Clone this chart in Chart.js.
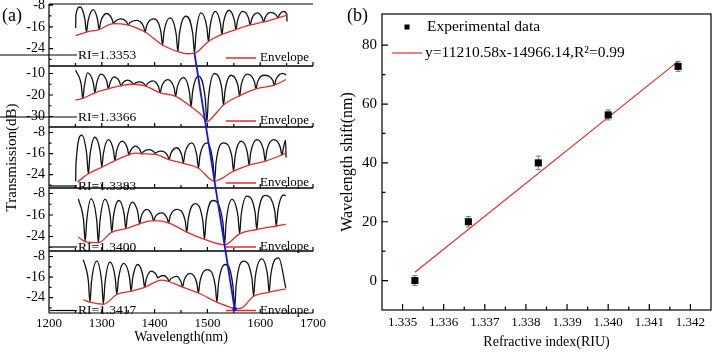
<!DOCTYPE html>
<html lang="en">
<head>
<meta charset="UTF-8">
<title>Spectra and wavelength shift</title>
<script src="https://cdn.jsdelivr.net/npm/chart.js@4.4.0/dist/chart.umd.min.js"></script>
<style>
  body { margin: 0; background: #fff; }
  #wrap { position: relative; width: 716px; height: 353px; overflow: hidden; font-family: "Liberation Serif", "Times New Roman", serif; }
  canvas { position: absolute; }
  .tag { position: absolute; font-size: 18px; line-height: 1; color: #000; }
</style>
</head>
<body>
<div id="wrap">
  <canvas id="s0"></canvas>
  <canvas id="s1"></canvas>
  <canvas id="s2"></canvas>
  <canvas id="s3"></canvas>
  <canvas id="s4"></canvas>
  <canvas id="blue" width="340" height="353" style="left:0;top:0"></canvas>
  <canvas id="cb" width="386" height="353" style="left:330px;top:0"></canvas>
  <div class="tag" style="left:2px;top:6px">(a)</div>
  <div class="tag" style="left:347px;top:6px">(b)</div>
</div>
<script>
// ---------- panel (a): transmission spectra ----------
const waveTicks = [1200, 1300, 1400, 1500, 1600, 1700];
const waveMinor = [1250, 1350, 1450, 1550, 1650];
const riLabels = ['RI=1.3353', 'RI=1.3366', 'RI=1.3383', 'RI=1.3400', 'RI=1.3417'];
const envLabel = 'Envelope';
const yRange = [[-30.4, -7.6], [-34.9, -6.5], [-29.1, -5.9], [-29.4, -5.95], [-30.0, -5.85]];
const yMajor = [[-8, -16, -24], [-10, -20, -30], [-8, -16, -24], [-8, -16, -24], [-8, -16, -24]];
const yMinor = [[-12, -20, -28], [-15, -25], [-12, -20, -28], [-12, -20, -28], [-12, -20, -28]];

// [wavelength nm, transmission dB]
const spec1 = [[1250.5,-16.4],[1251,-11.5],[1259,-8.7],[1268,-13.3],[1271,-17.9],[1274,-13.8],[1284,-9.7],[1292,-13.4],[1295,-17.0],[1298,-14.1],[1309,-11.1],[1319,-13.0],[1322,-14.8],[1325,-14.0],[1336,-13.1],[1347,-14.2],[1350,-15.3],[1353,-14.5],[1366,-13.6],[1379,-15.8],[1382,-17.9],[1385,-15.5],[1398,-13.1],[1412,-17.9],[1415,-22.7],[1418,-17.7],[1429,-12.7],[1441,-18.9],[1444,-25.1],[1447,-18.6],[1459,-12.1],[1472.5,-18.9],[1475.5,-25.7],[1478.5,-18.3],[1488,-10.9],[1499,-16.2],[1502,-21.4],[1505,-15.9],[1515,-10.3],[1524.5,-14.6],[1527.5,-18.8],[1530.5,-14.4],[1541,-9.9],[1551,-13.5],[1554,-17.0],[1557,-13.7],[1567,-10.3],[1578,-12.8],[1581,-15.3],[1584,-13.1],[1594,-10.9],[1603.5,-12.6],[1606.5,-14.2],[1609.5,-12.5],[1620,-10.7],[1630.5,-11.7],[1633.5,-12.7],[1636.5,-11.5],[1644,-10.3],[1650.5,-11.4],[1650.7,-14.0]];
const env1 = [[1250.5,-19.2],[1271,-17.9],[1295,-17.0],[1322,-14.8],[1336,-14.9],[1350,-15.4],[1382,-17.9],[1415,-22.7],[1444,-25.1],[1462,-25.9],[1475.5,-25.7],[1502,-21.4],[1527.5,-18.8],[1554,-17.0],[1581,-15.3],[1606.5,-14.2],[1633.5,-12.7],[1650.5,-11.7]];

const spec2 = [[1250.5,-8.5],[1261,-15.1],[1264,-21.6],[1267,-15.7],[1273,-9.7],[1284,-14.4],[1287,-19.0],[1290,-14.7],[1298.5,-10.3],[1309.5,-13.7],[1312.5,-17.1],[1315.5,-14.4],[1323,-11.6],[1333.5,-13.8],[1336.5,-15.9],[1339.5,-14.5],[1348.5,-13.1],[1357,-14.1],[1360,-15.1],[1363,-14.5],[1372.5,-13.9],[1380.5,-14.9],[1383.5,-15.9],[1386.5,-14.7],[1396.5,-13.4],[1407.5,-16.2],[1410.5,-19.0],[1413.5,-15.9],[1425,-12.8],[1437,-16.7],[1440,-20.5],[1443,-16.2],[1455,-11.9],[1466,-18.7],[1469,-25.5],[1472,-18.4],[1483,-11.2],[1496,-21.9],[1499,-32.5],[1502,-21.3],[1513.5,-10.0],[1527.5,-17.4],[1530.5,-24.7],[1533.5,-17.8],[1545,-10.8],[1558,-15.7],[1561,-20.5],[1564,-15.4],[1575.5,-10.3],[1589,-13.7],[1592,-17.0],[1595,-13.9],[1606.5,-10.8],[1624,-13.2],[1627,-15.5],[1630,-12.7],[1643,-9.9],[1649,-10.6]];
const env2 = [[1250.5,-22.4],[1264,-21.6],[1287,-19.0],[1312.5,-17.1],[1336.5,-15.6],[1360,-15.0],[1383.5,-15.9],[1410.5,-19.0],[1440,-20.6],[1469,-25.5],[1490,-29.6],[1499,-32.5],[1508,-30.8],[1530.5,-24.7],[1561,-20.3],[1592,-17.1],[1627,-15.4],[1649,-12.8]];

const spec3 = [[1250.5,-26.5],[1251,-20.2],[1262,-9.0],[1271.5,-16.4],[1274.5,-23.7],[1277.5,-16.8],[1287,-9.8],[1297,-15.5],[1300,-21.2],[1303,-16.0],[1312.5,-10.7],[1322,-14.7],[1325,-18.7],[1328,-15.0],[1339,-11.3],[1348.5,-14.0],[1351.5,-16.6],[1354.5,-14.9],[1364.5,-13.2],[1372.5,-14.7],[1375.5,-16.1],[1378.5,-15.3],[1389.5,-14.5],[1398,-15.2],[1401,-15.9],[1404,-15.5],[1412.5,-15.1],[1424.5,-16.7],[1427.5,-18.3],[1430.5,-16.1],[1442,-13.8],[1451.5,-16.7],[1454.5,-19.6],[1457.5,-15.8],[1470.5,-11.9],[1480,-16.7],[1483,-21.5],[1486,-16.7],[1499,-11.9],[1510.5,-19.2],[1513.5,-26.5],[1516.5,-19.2],[1530.5,-11.9],[1546.5,-17.3],[1549.5,-22.7],[1552.5,-17.0],[1564,-11.3],[1576,-15.9],[1579,-20.4],[1582,-15.6],[1594,-10.7],[1606.5,-14.8],[1609.5,-18.9],[1612.5,-14.8],[1625.5,-10.7],[1638,-13.6],[1641,-16.5],[1644,-13.8],[1648,-11.0],[1649,-17.5]];
const env3 = [[1254,-26.8],[1274.5,-23.7],[1300,-21.2],[1325,-18.7],[1351.5,-16.4],[1364,-15.8],[1375.5,-16.1],[1401,-16.3],[1427.5,-18.3],[1454.5,-19.7],[1483,-21.6],[1513.5,-26.5],[1549.5,-22.7],[1579,-20.4],[1609.5,-18.9],[1641,-16.5],[1649,-15.8]];

const spec4 = [[1255.5,-10.0],[1265.5,-18.0],[1268.5,-25.9],[1271.5,-18.0],[1279.5,-10.0],[1290.5,-18.2],[1293.5,-26.3],[1296.5,-18.3],[1306,-10.2],[1316,-16.3],[1319,-22.4],[1322,-16.5],[1332.5,-10.6],[1342.5,-15.9],[1345.5,-21.1],[1348.5,-16.2],[1358,-11.2],[1368.5,-15.3],[1371.5,-19.3],[1374.5,-16.6],[1385,-13.9],[1395,-16.1],[1398,-18.2],[1401,-16.7],[1413.5,-15.2],[1423.5,-17.1],[1426.5,-18.9],[1429.5,-16.4],[1442,-13.9],[1458,-18.2],[1461,-22.4],[1464,-17.1],[1477,-11.8],[1491.5,-18.5],[1494.5,-25.1],[1497.5,-17.9],[1510.5,-10.6],[1529.5,-18.9],[1532.5,-27.1],[1535.5,-18.7],[1546.5,-10.2],[1558,-16.6],[1561,-23.0],[1564,-16.0],[1575,-9.0],[1590.5,-15.2],[1593.5,-21.4],[1596.5,-15.1],[1609.5,-8.7],[1627.5,-14.4],[1630.5,-20.1],[1633.5,-14.3],[1644.5,-8.5],[1648.5,-8.9]];
const env4 = [[1255.5,-24.2],[1268.5,-25.9],[1293.5,-26.3],[1319,-22.4],[1345.5,-21.1],[1371.5,-19.3],[1398,-18.1],[1426.5,-18.9],[1461,-22.4],[1494.5,-25.1],[1532.5,-27.1],[1561,-23.0],[1593.5,-21.4],[1630.5,-20.1],[1648.5,-19.5]];

const spec5 = [[1265,-9.2],[1274.5,-17.5],[1277.5,-25.8],[1280.5,-17.8],[1290.5,-9.8],[1300,-18.2],[1303,-26.5],[1306,-18.4],[1315.5,-10.2],[1325.5,-16.5],[1328.5,-22.8],[1331.5,-16.8],[1341.5,-10.7],[1352.5,-16.1],[1355.5,-21.5],[1358.5,-16.3],[1368,-11.1],[1378,-15.6],[1381,-20.0],[1384,-16.9],[1393.5,-13.7],[1403,-15.0],[1406,-16.3],[1409,-15.9],[1417,-15.4],[1424.5,-16.5],[1427.5,-17.6],[1430.5,-16.7],[1442,-15.7],[1450,-17.8],[1453,-19.8],[1456,-17.2],[1467.5,-14.6],[1480,-18.4],[1483,-22.2],[1486,-17.7],[1500,-13.1],[1515,-19.5],[1518,-25.8],[1521,-18.5],[1533.5,-11.1],[1548.5,-19.8],[1551.5,-28.4],[1554.5,-19.1],[1568.5,-9.8],[1584.5,-16.7],[1587.5,-23.5],[1590.5,-16.2],[1603,-8.9],[1614,-15.4],[1617,-21.9],[1620,-15.2],[1635,-8.5],[1648.5,-20.2]];
const env5 = [[1265,-24.8],[1277.5,-25.8],[1303,-26.6],[1328.5,-22.8],[1355.5,-21.5],[1381,-20.0],[1413.5,-17.2],[1453,-19.9],[1483,-22.2],[1518,-25.8],[1546,-28.0],[1551.5,-28.4],[1565,-28.0],[1587.5,-23.5],[1617,-21.9],[1648.5,-20.6]];

// dip tracking line (blue): first and last spectrum minimum
const trackSub = [0, 4];
const trackNm = [1475.5, 1551.5];
const trackDb = [-25.7, -28.4];

// ---------- panel (b): wavelength shift ----------
const riuX = [1.3353, 1.3366, 1.3383, 1.3400, 1.3417];
const shiftY = [0, 20, 40, 56.3, 72.8];
const shiftErr = [1.7, 1.8, 2.3, 1.7, 1.7];
const fitX = [1.3353, 1.3417];
const fitY = [2.8, 74.5];
const legendLabels = ['Experimental data', 'y=11210.58x-14966.14,R²=0.99'];
const riuTicks = [1.335, 1.336, 1.337, 1.338, 1.339, 1.340, 1.341, 1.342];
const riuMinor = [1.3355, 1.3365, 1.3375, 1.3385, 1.3395, 1.3405, 1.3415];
const shiftTicks = [0, 20, 40, 60, 80];
const shiftMinor = [10, 30, 50, 70];

const specs = [spec1, spec2, spec3, spec4, spec5];
const envs = [env1, env2, env3, env4, env5];

const SERIF = '"Liberation Serif", "Times New Roman", serif';
Chart.defaults.font.family = SERIF;
Chart.defaults.color = '#000';

const RED = '#e32b2b';
const PAD = 30;
const subTop = [4, 66, 127, 188, 251];
const subBot = [66, 127, 188, 251, 313];
const riLineX0 = [0, 0, 50, 50, 50];
const riOff = [11, 10, 2, 4, 2.5];
const envOff = [8, 6, 5, 4, 2.5];

const frameA = {
  id: 'frameA',
  afterDraw(chart, args, opts) {
    const i = opts.idx;
    const { ctx, chartArea: a, scales: { x, y } } = chart;
    ctx.save();
    ctx.strokeStyle = '#000';
    ctx.lineWidth = 1.2;
    ctx.beginPath();
    ctx.moveTo(a.left, a.top); ctx.lineTo(a.right, a.top);
    ctx.moveTo(a.left, a.bottom); ctx.lineTo(a.right, a.bottom);
    ctx.moveTo(a.left, a.top); ctx.lineTo(a.left, a.bottom);
    yMajor[i].forEach(v => { const p = y.getPixelForValue(v); ctx.moveTo(a.left, p); ctx.lineTo(a.left + 4, p); });
    yMinor[i].forEach(v => { const p = y.getPixelForValue(v); ctx.moveTo(a.left, p); ctx.lineTo(a.left + 2.5, p); });
    waveTicks.forEach(v => { const p = x.getPixelForValue(v); ctx.moveTo(p, a.bottom); ctx.lineTo(p, a.bottom - 4); });
    waveMinor.forEach(v => { const p = x.getPixelForValue(v); ctx.moveTo(p, a.bottom); ctx.lineTo(p, a.bottom - 3); });
    ctx.stroke();

    // RI label
    const ly = a.bottom - riOff[i];
    ctx.beginPath(); ctx.moveTo(riLineX0[i], ly); ctx.lineTo(77, ly); ctx.stroke();
    ctx.fillStyle = '#000';
    ctx.textBaseline = 'middle';
    ctx.textAlign = 'left';
    ctx.font = '13.5px ' + SERIF;
    ctx.fillText(riLabels[i], 78, ly);

    // envelope legend
    const ey = a.bottom - envOff[i];
    ctx.strokeStyle = RED; ctx.lineWidth = 1.5;
    ctx.beginPath(); ctx.moveTo(226, ey); ctx.lineTo(256, ey); ctx.stroke();
    ctx.font = '13px ' + SERIF;
    ctx.fillText(envLabel, 260, ey);
    ctx.restore();
  }
};

const subs = [];
for (let i = 0; i < 5; i++) {
  const last = i === 4;
  const cv = document.getElementById('s' + i);
  const top = subTop[i] - PAD;
  cv.width = 340;
  cv.height = last ? 353 - top : subBot[i] - subTop[i] + 2 * PAD;
  cv.style.left = '0px';
  cv.style.top = top + 'px';

  subs.push(new Chart(cv, {
    type: 'line',
    data: {
      datasets: [
        { data: envs[i].map(p => ({ x: p[0], y: p[1] })), borderColor: RED, borderWidth: 1.3,
          pointRadius: 0, cubicInterpolationMode: 'monotone', tension: 0.4 },
        { data: specs[i].map(p => ({ x: p[0], y: p[1] })), borderColor: '#111', borderWidth: 1.3,
          pointRadius: 0, cubicInterpolationMode: 'monotone', tension: 0.4 }
      ]
    },
    options: {
      responsive: false,
      animation: false,
      layout: { padding: { top: PAD, bottom: last ? 0 : PAD, left: 0, right: 27 } },
      plugins: { legend: { display: false }, tooltip: { enabled: false }, frameA: { idx: i } },
      scales: {
        x: {
          type: 'linear', min: 1200, max: 1700, display: last,
          grid: { display: false, drawTicks: false }, border: { display: false },
          afterBuildTicks: s => { s.ticks = waveTicks.map(v => ({ value: v })); },
          afterFit: s => { if (last) s.height = 40; },
          ticks: { padding: 3, font: { family: SERIF, size: 13 }, autoSkip: false, maxRotation: 0, callback: v => String(v) },
          title: { display: last, text: 'Wavelength(nm)', font: { family: SERIF, size: 14 }, padding: { top: 0, bottom: 7 } }
        },
        y: {
          min: yRange[i][0], max: yRange[i][1],
          grid: { display: false, drawTicks: false }, border: { display: false },
          afterBuildTicks: s => { s.ticks = yMajor[i].map(v => ({ value: v })); },
          afterFit: s => { s.width = 49; },
          ticks: { padding: 4, font: { family: SERIF, size: 14 }, callback: v => String(v) },
          title: { display: i === 2, text: 'Transmission(dB)', font: { family: SERIF, size: 15 }, padding: { top: 3, bottom: 0 } }
        }
      }
    },
    plugins: [frameA]
  }));
}

// blue line joining the deepest dips, through the subplot scales
const bctx = document.getElementById('blue').getContext('2d');
const tp = trackSub.map((k, j) => ({
  x: subs[k].scales.x.getPixelForValue(trackNm[j]),
  y: subs[k].scales.y.getPixelForValue(trackDb[j]) + subTop[k] - PAD
}));
bctx.strokeStyle = '#1414e6';
bctx.lineWidth = 1.8;
bctx.beginPath();
bctx.moveTo(tp[0].x, tp[0].y);
bctx.lineTo(tp[1].x, tp[1].y);
bctx.stroke();
bctx.fillStyle = '#1414e6';
bctx.beginPath();
bctx.arc(tp[1].x, tp[1].y, 2.3, 0, Math.PI * 2);
bctx.fill();

// ---------- panel (b) chart ----------
const frameB = {
  id: 'frameB',
  beforeDatasetsDraw(chart) {
    const { ctx, scales: { x, y } } = chart;
    ctx.save();
    ctx.strokeStyle = '#777';
    ctx.lineWidth = 1;
    riuX.forEach((v, k) => {
      const px = x.getPixelForValue(v);
      const y0 = y.getPixelForValue(shiftY[k] - shiftErr[k]);
      const y1 = y.getPixelForValue(shiftY[k] + shiftErr[k]);
      ctx.beginPath();
      ctx.moveTo(px, y0); ctx.lineTo(px, y1);
      ctx.moveTo(px - 2.5, y0); ctx.lineTo(px + 2.5, y0);
      ctx.moveTo(px - 2.5, y1); ctx.lineTo(px + 2.5, y1);
      ctx.stroke();
    });
    ctx.restore();
  },
  afterDraw(chart) {
    const { ctx, chartArea: a, scales: { x, y } } = chart;
    ctx.save();
    ctx.strokeStyle = '#000';
    ctx.lineWidth = 1.2;
    ctx.strokeRect(a.left, a.top, a.right - a.left, a.bottom - a.top);
    ctx.beginPath();
    riuTicks.forEach(v => { const p = x.getPixelForValue(v); ctx.moveTo(p, a.bottom); ctx.lineTo(p, a.bottom - 6); });
    riuMinor.forEach(v => { const p = x.getPixelForValue(v); ctx.moveTo(p, a.bottom); ctx.lineTo(p, a.bottom - 3.5); });
    shiftTicks.forEach(v => { const p = y.getPixelForValue(v); ctx.moveTo(a.left, p); ctx.lineTo(a.left + 6, p); });
    shiftMinor.forEach(v => { const p = y.getPixelForValue(v); ctx.moveTo(a.left, p); ctx.lineTo(a.left + 3.5, p); });
    ctx.stroke();

    // legend
    ctx.fillStyle = '#000';
    ctx.fillRect(77 - 2.5, 27 - 2.5, 5, 5);
    ctx.strokeStyle = RED;
    ctx.beginPath(); ctx.moveTo(62, 53); ctx.lineTo(92, 53); ctx.stroke();
    ctx.font = '15.5px ' + SERIF;
    ctx.textBaseline = 'middle';
    ctx.textAlign = 'left';
    ctx.fillText(legendLabels[0], 97, 27);
    ctx.fillText(legendLabels[1], 95, 53);
    ctx.restore();
  }
};

new Chart(document.getElementById('cb'), {
  type: 'scatter',
  data: {
    datasets: [
      { label: legendLabels[0], data: riuX.map((v, k) => ({ x: v, y: shiftY[k] })),
        pointStyle: 'rect', pointRadius: 5, backgroundColor: '#000', borderColor: '#000', borderWidth: 0 },
      { label: legendLabels[1], data: fitX.map((v, k) => ({ x: v, y: fitY[k] })),
        showLine: true, borderColor: RED, borderWidth: 1.2, pointRadius: 0 }
    ]
  },
  options: {
    responsive: false,
    animation: false,
    layout: { padding: { top: 7, right: 3, left: 0, bottom: 0 } },
    plugins: { legend: { display: false }, tooltip: { enabled: false } },
    scales: {
      x: {
        type: 'linear', min: 1.3345, max: 1.3425,
        grid: { display: false, drawTicks: false }, border: { display: false },
        afterBuildTicks: s => { s.ticks = riuTicks.map(v => ({ value: v })); },
        afterFit: s => { s.height = 43; },
        ticks: { padding: 5, font: { family: SERIF, size: 13 }, autoSkip: false, maxRotation: 0, callback: v => Number(v).toFixed(3) },
        title: { display: true, text: 'Refractive index(RIU)', font: { family: SERIF, size: 14 }, padding: { top: 0, bottom: 2 } }
      },
      y: {
        min: -10, max: 90.6,
        grid: { display: false, drawTicks: false }, border: { display: false },
        afterBuildTicks: s => { s.ticks = shiftTicks.map(v => ({ value: v })); },
        afterFit: s => { s.width = 52; },
        ticks: { padding: 5, font: { family: SERIF, size: 15 }, callback: v => String(v) },
        title: { display: true, text: 'Wavelength shift(nm)', font: { family: SERIF, size: 16 }, padding: { top: 8, bottom: 0 } }
      }
    }
  },
  plugins: [frameB]
});
</script>
</body>
</html>
